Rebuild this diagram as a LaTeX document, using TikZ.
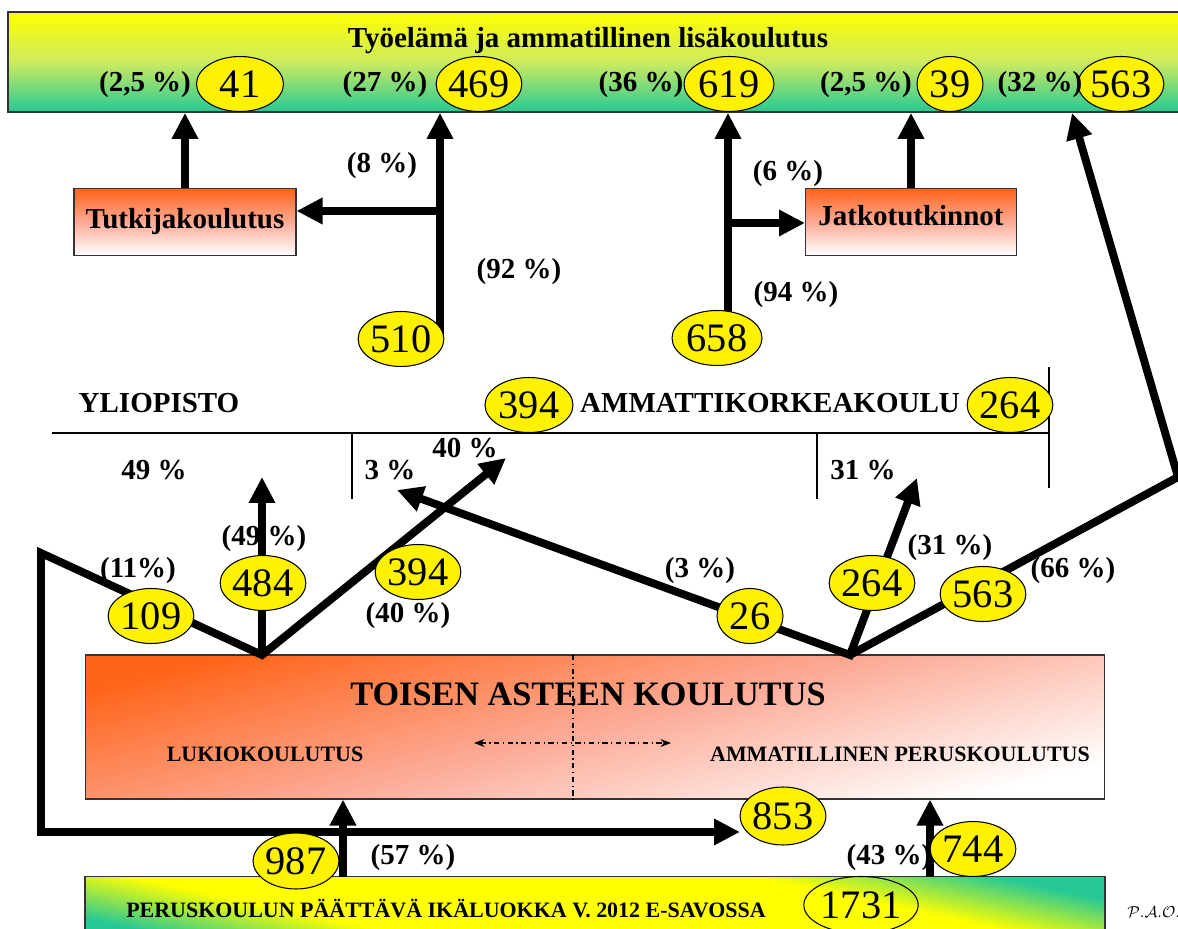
\documentclass[tikz,border=0pt]{standalone}
\usepackage{fontspec}
\setmainfont{Liberation Serif}
\usetikzlibrary{arrows.meta,shapes.geometric}

\definecolor{hotorange}{RGB}{255,100,25}
\definecolor{salmonpink}{RGB}{252,170,150}
\definecolor{seagreen}{RGB}{38,200,150}
\definecolor{limeyellow}{RGB}{205,235,95}
\pgfdeclareverticalshading{yellowband}{100bp}{color(0bp)=(seagreen); color(25bp)=(seagreen); color(36bp)=(yellow); color(64bp)=(yellow); color(75bp)=(seagreen); color(100bp)=(seagreen)}

\begin{document}
\begin{tikzpicture}[x=0.02cm, y=-0.02cm,
    box/.style={rectangle, draw=black!80, line width=0.6pt, inner sep=0pt, top color=hotorange, bottom color=white, middle color=salmonpink},
    num/.style={ellipse, draw, fill=yellow, line width=0.6pt, inner sep=0pt, minimum width=1.32cm, minimum height=1.1cm, font=\fontsize{23}{23}\selectfont},
    pct/.style={font=\fontsize{16.5}{18}\selectfont\bfseries, inner sep=0pt},
    small/.style={font=\fontsize{12.5}{14}\selectfont\bfseries, inner sep=0pt},
    arrow/.style={line width=4.5pt, line join=miter, -{Triangle[length=0.52cm, width=0.5cm]}},
    biarrow/.style={line width=4.5pt, line join=miter, {Triangle[length=0.52cm, width=0.5cm]}-{Triangle[length=0.52cm, width=0.5cm]}},
    thin/.style={line width=0.7pt}
]
\useasboundingbox (0,0) rectangle (1178,929);

% upper bar
\node[rectangle, draw=black!80, line width=1pt, inner sep=0pt, top color=yellow, bottom color=seagreen, middle color=limeyellow, minimum width=23.64cm, minimum height=2cm] (tyo) at (599,62) {};
\node[pct, anchor=base] (tyotitle) at (588,48) {Työelämä ja ammatillinen lisäkoulutus};

% boxes
\node[box, pct, minimum width=4.44cm, minimum height=1.34cm] (tutk) at (185,222) {Tutkijakoulutus};
\node[box, pct, minimum width=4.22cm, minimum height=1.34cm, text depth=0.28cm] (jatko) at (911,222) {Jatkotutkinnot};
\node[box, minimum width=20.4cm, minimum height=2.88cm, shading angle=14] (toinen) at (595,727) {};
\node[rectangle, draw=black!80, line width=0.8pt, inner sep=0pt, shading=yellowband, shading angle=-12, minimum width=20.4cm, minimum height=1.3cm] (peru) at (595,909) {};

% points
\coordinate (trunkU) at (440,336);
\coordinate (forkU) at (440,211);
\coordinate (trunkA) at (728,330);
\coordinate (forkA) at (728,223);
\coordinate (lk) at (262,655);
\coordinate (ak) at (850,655);
\coordinate (tip49) at (262,477);
\coordinate (tip40) at (506,458);
\coordinate (tip3) at (397,490);
\coordinate (tip31) at (917,478);
\coordinate (bendL) at (41,553);
\coordinate (bendR) at (1178,477);
\coordinate (tip853) at (740,832);
\coordinate (tip563) at (1072,113);
\coordinate (upL) at (343,877);
\coordinate (upR) at (930,877);

% flows
\draw[arrow] (trunkU) -- (trunkU |- tyo.south);
\draw[arrow] (forkU) -- (forkU -| tutk.east);
\draw[arrow] (tutk.north) -- (tutk.north |- tyo.south);
\draw[arrow] (trunkA) -- (trunkA |- tyo.south);
\draw[arrow] (forkA) -- (forkA -| jatko.west);
\draw[arrow] (jatko.north) -- (jatko.north |- tyo.south);
\draw[arrow] (lk) -- (tip49);
\draw[biarrow] (tip40) -- (lk) -- (bendL) |- (tip853);
\draw[biarrow] (tip3) -- (ak) -- (tip31);
\draw[arrow] (ak) -- (bendR) -- (tip563);
\draw[arrow, line width=4pt] (upL) -- (upL |- toinen.south);
\draw[arrow, line width=4pt] (upR) -- (upR |- toinen.south);

% school table
\draw[thin] (52,433) -- (1049,433);
\draw[thin] (1049,367) -- (1049,488);
\draw[thin] (352,433) -- (352,499);
\draw[thin] (817,433) -- (817,499);
\node[pct, anchor=base] (ylio) at (159,413) {YLIOPISTO};
\node[pct, anchor=base] (amk) at (770,413) {AMMATTIKORKEAKOULU};
\node[num, minimum width=1.76cm] (n394t) at (529,405) {394};
\node[num, minimum width=1.52cm] (n264t) at (1010,405) {264};
\node[pct] (q49) at (154,470) {49 \%};
\node[pct] (q3) at (390,470) {3 \%};
\node[pct] (q40) at (465,448) {40 \%};
\node[pct] (q31) at (863,470) {31 \%};

% top values
\node[num, minimum width=1.74cm] (n41) at (240,84) {41};
\node[num, minimum width=1.58cm] (n469) at (479,84) {469};
\node[num, minimum width=1.8cm] (n619) at (729,84) {619};
\node[num] (n39) at (950,84) {39};
\node[num, minimum width=1.56cm] (n563t) at (1121,84) {563};
\node[pct] (p41) at (145,85) {(2,5 \%)};
\node[pct] (p469) at (385,85) {(27 \%)};
\node[pct] (p619) at (641,85) {(36 \%)};
\node[pct] (p39) at (866,85) {(2,5 \%)};
\node[pct] (p563t) at (1040,85) {(32 \%)};

\node[num, minimum width=1.56cm] (n510) at (401,339) {510};
\node[num, minimum width=1.8cm] (n658) at (717,338) {658};
\node[pct] (p8) at (382,166) {(8 \%)};
\node[pct] (p92) at (519,272) {(92 \%)};
\node[pct] (p6) at (788,174) {(6 \%)};
\node[pct] (p94) at (796,295) {(94 \%)};

% lower flows
\node[num] (n109) at (151,616) {109};
\node[num] (n484) at (263,583) {484};
\node[num] (n394) at (418,572) {394};
\node[num] (n26) at (750,616) {26};
\node[num] (n264) at (872,583) {264};
\node[num] (n563) at (983,594) {563};
\node[pct] (p11) at (138,571) {(11\%)};
\node[pct] (p49) at (264,539) {(49 \%)};
\node[pct] (p40) at (408,616) {(40 \%)};
\node[pct] (p3) at (700,571) {(3 \%)};
\node[pct] (p31) at (950,548) {(31 \%)};
\node[pct] (p66) at (1073,571) {(66 \%)};

% second level
\draw[thin, dash dot] (573,655) -- (573,800);
\draw[thin, dash dot, {Stealth[length=6pt]}-{Stealth[length=6pt]}] (474,743) -- (671,743);
\node[font=\fontsize{19.5}{21}\selectfont\bfseries, anchor=base] (toititle) at (588,705) {TOISEN ASTEEN KOULUTUS};
\node[small, anchor=base] (lukio) at (265,761) {LUKIOKOULUTUS};
\node[small, anchor=base] (ammpk) at (900,761) {AMMATILLINEN PERUSKOULUTUS};
\node[num, minimum height=1.16cm] (n853) at (783,816) {853};

% basic school
\node[num, minimum height=1.12cm] (n987) at (296,861) {987};
\node[num] (n744) at (973,849) {744};
\node[pct] (p57) at (413,858) {(57 \%)};
\node[pct] (p43) at (889,858) {(43 \%)};
\node[small, anchor=base] (perutext) at (446,917) {PERUSKOULUN PÄÄTTÄVÄ IKÄLUOKKA V. 2012 E-SAVOSSA};
\node[num, fill=none, minimum width=1.8cm, minimum height=1.14cm] (n1731) at (861,905) {1731};
\node[anchor=base west, inner sep=0pt, font=\fontsize{9}{10}\selectfont] (pao) at (1127,917) {$\mathcal{P}.\mathcal{A}.\mathcal{O}.$};
\end{tikzpicture}
\end{document}
